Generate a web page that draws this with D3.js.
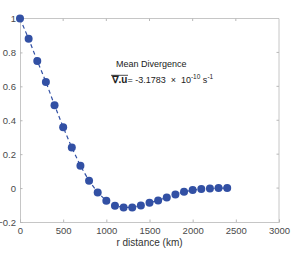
<!DOCTYPE html>
<html>
<head>
<meta charset="utf-8">
<script src="https://cdn.jsdelivr.net/npm/d3@7"></script>
<style>
  body { margin: 0; background: #fff; }
  svg { font-family: "Liberation Sans", Arial, sans-serif; }
</style>
</head>
<body>
<svg id="chart" width="299" height="254"></svg>
<script>
// data
const rDistance = [0, 100, 200, 300, 400, 500, 600, 700, 800, 900, 1000, 1100, 1200,
                   1300, 1400, 1500, 1600, 1700, 1800, 1900, 2000, 2100, 2200, 2300, 2400];
const correlation = [1.0, 0.88, 0.75, 0.626, 0.489, 0.359, 0.239, 0.131, 0.043, -0.026, -0.075,
                     -0.104, -0.114, -0.114, -0.102, -0.087, -0.073, -0.055, -0.038, -0.022,
                     -0.012, -0.006, -0.002, 0.0, 0.0];
const xTicks = [0, 500, 1000, 1500, 2000, 2500, 3000];
const yTicks = [-0.2, 0, 0.2, 0.4, 0.6, 0.8, 1];

const svg = d3.select("#chart");
const margin = {top: 18.5, right: 20, bottom: 32, left: 20};
const dim = {w: 299, h: 254};
const axisColor = "#b8b8b8";
const labelColor = "#4a4a4a";
const blue = "#3250a4";

const x = d3.scaleLinear().domain([0, 3000]).range([margin.left, dim.w - margin.right]);
const y = d3.scaleLinear().domain([-0.2, 1]).range([dim.h - margin.bottom, margin.top]);

// box (top + right)
svg.append("path")
    .attr("d", `M${x(0)},${y(1)}H${x(3000)}V${y(-0.2)}`)
    .attr("fill", "none")
    .attr("stroke", axisColor)
    .attr("stroke-width", 0.8);
// top ticks
svg.append("g").selectAll("line").data(xTicks.slice(1, -1)).join("line")
    .attr("x1", d => x(d)).attr("x2", d => x(d))
    .attr("y1", y(1)).attr("y2", y(1) + 2.5)
    .attr("stroke", axisColor);
// right ticks
svg.append("g").selectAll("line").data(yTicks.slice(1, -1)).join("line")
    .attr("x1", x(3000)).attr("x2", x(3000) - 2.5)
    .attr("y1", d => y(d)).attr("y2", d => y(d))
    .attr("stroke", axisColor);

// x axis
const xAxis = svg.append("g")
    .attr("transform", `translate(0,${y(-0.2)})`)
    .call(d3.axisBottom(x).tickValues(xTicks).tickSize(-2.5).tickPadding(5).tickFormat(d3.format("d")));
xAxis.select(".domain").attr("stroke", axisColor).attr("stroke-width", 0.8);
xAxis.selectAll(".tick line").attr("stroke", axisColor);
xAxis.selectAll("text").attr("fill", labelColor).style("font-size", "9.5px");

// y axis
const yAxis = svg.append("g")
    .attr("transform", `translate(${x(0)},0)`)
    .call(d3.axisLeft(y).tickValues(yTicks).tickSize(-2.5).tickPadding(4).tickFormat(d => d3.format("")(+d.toFixed(1))));
yAxis.select(".domain").attr("stroke", axisColor).attr("stroke-width", 0.8);
yAxis.selectAll(".tick line").attr("stroke", axisColor);
yAxis.selectAll("text").attr("fill", labelColor).style("font-size", "9.5px");

// x label
svg.append("text")
    .attr("x", x(1500)).attr("y", 246)
    .attr("text-anchor", "middle")
    .attr("fill", "#333")
    .style("font-size", "10px")
    .text("r distance (km)");

// dashed line + markers
const pts = rDistance.map((r, i) => ({r, v: correlation[i]}));
svg.append("path")
    .datum(pts)
    .attr("fill", "none")
    .attr("stroke", blue)
    .attr("stroke-width", 1.2)
    .attr("stroke-dasharray", "4,3")
    .attr("d", d3.line().x(d => x(d.r)).y(d => y(d.v)));
svg.append("g").selectAll("circle").data(pts).join("circle")
    .attr("cx", d => x(d.r)).attr("cy", d => y(d.v))
    .attr("r", 4)
    .attr("fill", blue);

// annotation
svg.append("text")
    .attr("x", 116).attr("y", 66.5)
    .attr("fill", "#222")
    .style("font-size", "9px")
    .text("Mean Divergence");

const eq = svg.append("text")
    .attr("x", 111.5).attr("y", 82.5)
    .attr("fill", "#222")
    .style("font-size", "9px")
    .attr("xml:space", "preserve")
    .style("white-space", "pre");
eq.append("tspan").attr("font-weight", "bold").style("font-size", "10px").text("∇.u");
eq.append("tspan").text("= -3.1783  ×  10");
eq.append("tspan").attr("dy", -4).style("font-size", "6.5px").text("-10");
eq.append("tspan").attr("dy", 4).text(" s");
eq.append("tspan").attr("dy", -4).style("font-size", "6.5px").text("-1");
svg.append("line")
    .attr("x1", 111).attr("x2", 128)
    .attr("y1", 75.3).attr("y2", 75.3)
    .attr("stroke", "#222").attr("stroke-width", 0.8);
</script>
</body>
</html>
